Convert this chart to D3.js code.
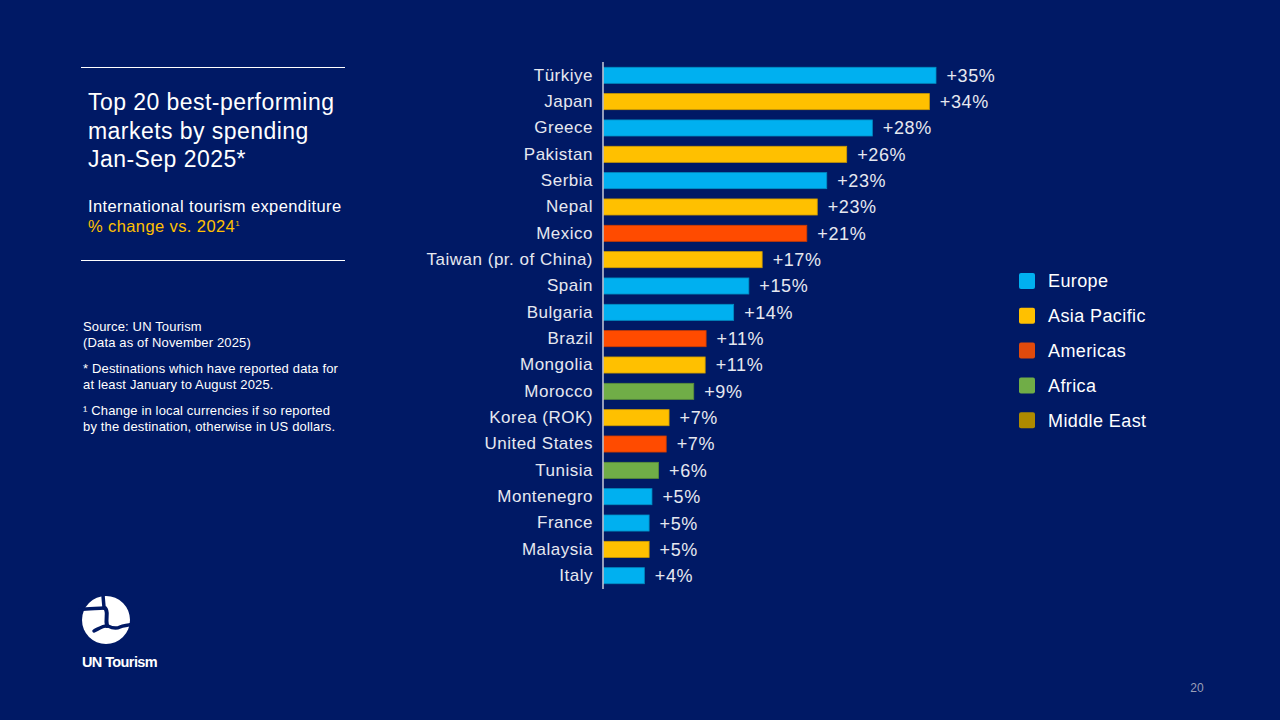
<!DOCTYPE html>
<html>
<head>
<meta charset="utf-8">
<script src="https://cdn.jsdelivr.net/npm/d3@7"></script>
<style>
  html, body { margin: 0; padding: 0; background: #001965; }
  svg { display: block; font-family: "Liberation Sans", Arial, sans-serif; }
</style>
</head>
<body>
<div class="chart"></div>
<script>
// data
const countries = ["Türkiye", "Japan", "Greece", "Pakistan", "Serbia", "Nepal", "Mexico",
  "Taiwan (pr. of China)", "Spain", "Bulgaria", "Brazil", "Mongolia", "Morocco",
  "Korea (ROK)", "United States", "Tunisia", "Montenegro", "France", "Malaysia", "Italy"];
const changes = [35.0, 34.3, 28.3, 25.6, 23.5, 22.5, 21.4, 16.7, 15.3, 13.7,
  10.8, 10.7, 9.5, 6.9, 6.6, 5.8, 5.1, 4.8, 4.8, 4.3];
const labels = ["+35%", "+34%", "+28%", "+26%", "+23%", "+23%", "+21%", "+17%", "+15%", "+14%",
  "+11%", "+11%", "+9%", "+7%", "+7%", "+6%", "+5%", "+5%", "+5%", "+4%"];
const regionOf = ["Europe", "Asia Pacific", "Europe", "Asia Pacific", "Europe", "Asia Pacific", "Americas",
  "Asia Pacific", "Europe", "Europe", "Americas", "Asia Pacific", "Africa",
  "Asia Pacific", "Americas", "Africa", "Europe", "Europe", "Asia Pacific", "Europe"];
const regions = ["Europe", "Asia Pacific", "Americas", "Africa", "Middle East"];
const regionColors = ["#00b0f0", "#ffc000", "#ff4b00", "#70ad47", "#b08c00"];
const legendColors = ["#00b0f0", "#ffc000", "#e04a0c", "#70ad47", "#ae8a00"];

const cfg = {
  width: 1280,
  height: 720,
  plot: {left: 603, top: 62, bottom: 589}
};

var svg = d3.select(".chart").append("svg")
  .attr("width", cfg.width)
  .attr("height", cfg.height);

svg.append("rect")
  .attr("width", cfg.width)
  .attr("height", cfg.height)
  .attr("fill", "#001965");

// ---- left panel ----
var left = svg.append("g");
left.append("line")
  .attr("x1", 81).attr("x2", 345).attr("y1", 67.5).attr("y2", 67.5)
  .attr("stroke", "#ffffff").attr("stroke-width", 1.2);
left.append("line")
  .attr("x1", 81).attr("x2", 345).attr("y1", 260.5).attr("y2", 260.5)
  .attr("stroke", "#ffffff").attr("stroke-width", 1.2);

["Top 20 best-performing", "markets by spending", "Jan-Sep 2025*"].forEach((t, i) => {
  left.append("text")
    .attr("x", 88).attr("y", 110 + i * 28.5)
    .attr("fill", "#ffffff")
    .style("font-size", "23px")
    .style("letter-spacing", "0.45px")
    .text(t);
});

left.append("text")
  .attr("x", 88).attr("y", 212)
  .attr("fill", "#ffffff")
  .style("font-size", "16.5px")
  .style("letter-spacing", "0.4px")
  .text("International tourism expenditure");
var sub = left.append("text")
  .attr("x", 88).attr("y", 232)
  .attr("fill", "#ffc000")
  .style("font-size", "16.5px")
  .style("letter-spacing", "0.4px")
  .text("% change vs. 2024");
sub.append("tspan")
  .attr("dy", -6)
  .style("font-size", "8px")
  .text("1");

var notes = [
  ["Source: UN Tourism", 331],
  ["(Data as of November 2025)", 347],
  ["* Destinations which have reported data for", 373],
  ["at least January to August 2025.", 389],
  ["¹ Change in local currencies if so reported", 415],
  ["by the destination, otherwise in US dollars.", 431]
];
notes.forEach(n => {
  left.append("text")
    .attr("x", 83).attr("y", n[1])
    .attr("fill", "#ffffff")
    .style("font-size", "13px")
    .style("letter-spacing", "0.15px")
    .text(n[0]);
});

// logo (rough globe mark)
var logo = svg.append("g").attr("transform", "translate(106,620)");
logo.append("circle").attr("r", 24).attr("fill", "#ffffff");
var cut = (d, w) => logo.append("path")
  .attr("d", d)
  .attr("fill", "none")
  .attr("stroke", "#001965")
  .attr("stroke-width", w)
  .attr("stroke-linecap", "round");
cut("M-3,-27 C-3,-20 -2,-16 -2,-12", 3.5);
cut("M-26,-10 C-18,-12 -9,-11 -2,-12", 3.5);
cut("M-1,-12 C3,-8 -1,-3 1,6", 4);
cut("M-12,11 C-6,8 -2,5 2,6 C6,8 10,9 14,7 C18,5 21,6 26,4", 3.5);
svg.append("text")
  .attr("x", 82).attr("y", 667)
  .attr("fill", "#ffffff")
  .style("font-size", "14.5px")
  .style("font-weight", "bold")
  .style("letter-spacing", "-0.6px")
  .text("UN Tourism");

svg.append("text")
  .attr("x", 1197).attr("y", 692)
  .attr("text-anchor", "middle")
  .attr("fill", "#9a9fb8")
  .style("font-size", "12px")
  .text("20");

// ---- bar chart ----
var x = d3.scaleLinear()
  .domain([0, 35])
  .range([cfg.plot.left, cfg.plot.left + 332.5]);

var y = d3.scaleBand()
  .domain(countries)
  .range([cfg.plot.top, cfg.plot.bottom])
  .paddingInner(0.39)
  .paddingOuter(0.2);

var color = d3.scaleOrdinal()
  .domain(regions)
  .range(regionColors);

var rows = countries.map((c, i) => ({country: c, value: changes[i], label: labels[i], region: regionOf[i]}));

svg.append("g")
  .selectAll("rect")
  .data(rows)
  .enter()
  .append("rect")
  .attr("x", x(0) + 0.5)
  .attr("y", d => y(d.country))
  .attr("width", d => x(d.value) - x(0))
  .attr("height", y.bandwidth())
  .attr("fill", d => color(d.region))
  .attr("stroke", d => d3.color(color(d.region)).darker(0.6))
  .attr("stroke-width", 0.8);

svg.append("g")
  .selectAll("text")
  .data(rows)
  .enter()
  .append("text")
  .attr("x", d => x(d.value) + 11)
  .attr("y", d => y(d.country) + y.bandwidth() / 2)
  .attr("dy", "0.36em")
  .attr("fill", "#e6e8f0")
  .style("font-size", "18px")
  .style("letter-spacing", "0.6px")
  .text(d => d.label);

// category axis
var axis = svg.append("g")
  .attr("transform", `translate(${cfg.plot.left},0)`)
  .call(d3.axisLeft(y).tickSize(0).tickPadding(10));
axis.select(".domain")
  .attr("stroke", "#c8cbd8")
  .attr("stroke-width", 1.5)
  .attr("d", `M0,${cfg.plot.top}V${cfg.plot.bottom}`);
axis.selectAll(".tick text")
  .attr("fill", "#e6e8f0")
  .style("font-size", "17px")
  .style("letter-spacing", "0.5px")
  .style("font-family", "'Liberation Sans', Arial, sans-serif");

// legend
var legend = svg.append("g")
  .attr("transform", "translate(1019,273)");
regions.forEach((r, i) => {
  var g = legend.append("g").attr("transform", `translate(0,${i * 34.8})`);
  g.append("rect")
    .attr("width", 16).attr("height", 16)
    .attr("rx", 2)
    .attr("fill", legendColors[i]);
  g.append("text")
    .attr("x", 29).attr("y", 8)
    .attr("dy", "0.36em")
    .attr("fill", "#ffffff")
    .style("font-size", "18px")
    .style("letter-spacing", "0.4px")
    .text(r);
});
</script>
</body>
</html>
